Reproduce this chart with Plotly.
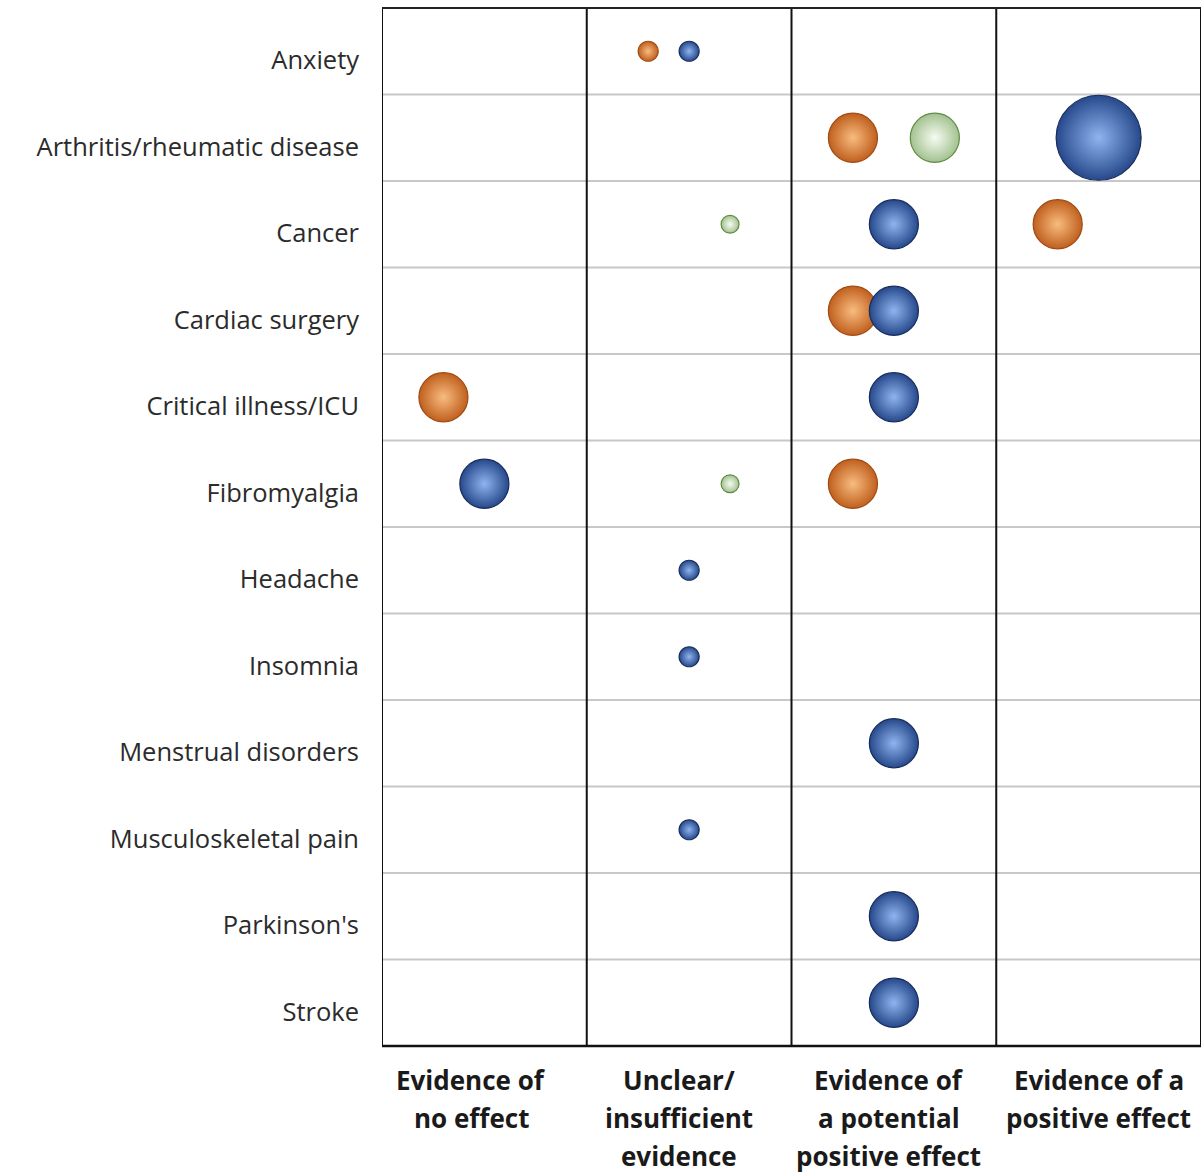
import plotly.graph_objects as go

# ---- data ----
conditions = ["Anxiety", "Arthritis/rheumatic disease", "Cancer", "Cardiac surgery",
              "Critical illness/ICU", "Fibromyalgia", "Headache", "Insomnia",
              "Menstrual disorders", "Musculoskeletal pain", "Parkinson's", "Stroke"]
evidence_levels = ["Evidence of\nno effect", "Unclear/\ninsufficient\nevidence",
                   "Evidence of\na potential\npositive effect", "Evidence of a\npositive effect"]

# series: condition, evidence column index, bubble size value
orange_cond = ["Anxiety", "Arthritis/rheumatic disease", "Cancer", "Cardiac surgery",
               "Critical illness/ICU", "Fibromyalgia"]
orange_level = [1, 2, 3, 2, 0, 2]
orange_size = [1, 6, 6, 6, 6, 6]

blue_cond = ["Anxiety", "Arthritis/rheumatic disease", "Cancer", "Cardiac surgery",
             "Critical illness/ICU", "Fibromyalgia", "Headache", "Insomnia",
             "Menstrual disorders", "Musculoskeletal pain", "Parkinson's", "Stroke"]
blue_level = [1, 3, 2, 2, 2, 0, 1, 1, 2, 1, 2, 2]
blue_size = [1, 18, 6, 6, 6, 6, 1, 1, 6, 1, 6, 6]

green_cond = ["Arthritis/rheumatic disease", "Cancer", "Fibromyalgia"]
green_level = [2, 1, 1]
green_size = [6, 0.8, 0.8]

# ---- style ----
W, H = 1201, 1175
ML, MR, MT, MB = 382, 0, 8, 129
max_diam = 85
sizeref = 2.0 * max(blue_size + orange_size + green_size) / max_diam ** 2
label_xshift = [-13, -10, -5, 0]

series = [
    dict(name="Orange series", cond=orange_cond, level=orange_level, size=orange_size,
         offset=0.3, edge="#C0601E", center="#F8BC80", line="#A04A14"),
    dict(name="Blue series", cond=blue_cond, level=blue_level, size=blue_size,
         offset=0.5, edge="#27498C", center="#8FB4EE", line="#172C5A"),
    dict(name="Green series", cond=green_cond, level=green_level, size=green_size,
         offset=0.7, edge="#A3C290", center="#F6FBF2", line="#5F8C42"),
]

fig = go.Figure()
for s in series:
    fig.add_trace(go.Scatter(
        x=[lv + s["offset"] for lv in s["level"]],
        y=[conditions.index(c) for c in s["cond"]],
        mode="markers",
        name=s["name"],
        marker=dict(size=s["size"], sizemode="area", sizeref=sizeref,
                    color=s["edge"],
                    gradient=dict(type="radial", color=s["center"]),
                    line=dict(color=s["line"], width=1.2),
                    opacity=1),
        hovertemplate="%{y}<extra></extra>",
        showlegend=False,
    ))

shapes = []
for k in range(len(conditions) - 1):
    shapes.append(dict(type="line", xref="paper", yref="y", x0=0, x1=1,
                       y0=k + 0.5, y1=k + 0.5, line=dict(color="#C8C8C8", width=2),
                       layer="below"))
for k in range(len(evidence_levels) + 1):
    shapes.append(dict(type="line", xref="x", yref="paper", x0=k, x1=k, y0=0, y1=1,
                       line=dict(color="#111111", width=2), layer="above"))
shapes.append(dict(type="line", xref="paper", yref="paper", x0=0, x1=1, y0=1, y1=1,
                   line=dict(color="#222222", width=2), layer="above"))
shapes.append(dict(type="line", xref="paper", yref="paper", x0=0, x1=1, y0=0, y1=0,
                   line=dict(color="#111111", width=2.5), layer="above"))

annotations = []
line_gap = 38
for i, lab in enumerate(evidence_levels):
    for j, ln in enumerate(lab.split("\n")):
        annotations.append(dict(x=i + 0.5, xref="x", y=0, yref="paper",
                                text="<b>" + ln + "</b>", showarrow=False,
                                xanchor="center", yanchor="middle",
                                xshift=label_xshift[i],
                                yshift=-(34 + line_gap * j),
                                font=dict(family="Open Sans", size=26, color="#1a1a1a")))

fig.update_layout(
    width=W, height=H,
    margin=dict(l=ML, r=MR, t=MT, b=MB),
    paper_bgcolor="white", plot_bgcolor="white",
    shapes=shapes, annotations=annotations,
    xaxis=dict(range=[0, len(evidence_levels)], showgrid=False, zeroline=False,
               showticklabels=False, ticks="", showline=False, fixedrange=True),
    yaxis=dict(range=[len(conditions) - 0.5, -0.5], showgrid=False, zeroline=False,
               tickmode="array", tickvals=list(range(len(conditions))),
               ticktext=conditions, ticks="", showline=False,
               ticklabelstandoff=22, ticklabelshift=-9,
               tickfont=dict(family="Open Sans", size=25.5, color="#2b2b2b")),
    hovermode="closest",
)

fig.write_html("out.html")
